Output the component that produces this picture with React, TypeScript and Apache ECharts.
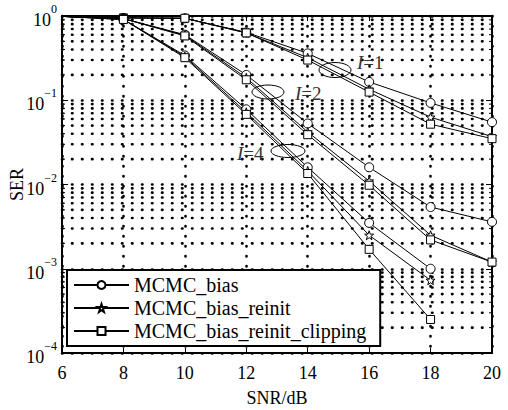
import React, { useEffect, useRef } from "react";
import * as echarts from "echarts";

const snr = [6, 8, 10, 12, 14, 16, 18, 20];
const xTicks = [6, 8, 10, 12, 14, 16, 18, 20];

// I = 1
const bias1 = [0.99, 0.95, 0.94, 0.64, 0.36, 0.165, 0.093, 0.055];
const reinit1 = [0.99, 0.95, 0.94, 0.63, 0.32, 0.135, 0.063, 0.037];
const clip1 = [0.99, 0.95, 0.94, 0.63, 0.30, 0.125, 0.052, 0.035];
// I = 2
const bias2 = [0.99, 0.93, 0.6, 0.2, 0.053, 0.016, 0.0054, 0.0036];
const reinit2 = [0.99, 0.93, 0.59, 0.185, 0.042, 0.011, 0.0025, 0.0012];
const clip2 = [0.99, 0.93, 0.58, 0.175, 0.039, 0.0098, 0.0022, 0.0012];
// I = 4
const bias4 = [0.99, 0.91, 0.34, 0.078, 0.016, 0.0035, 0.001];
const reinit4 = [0.99, 0.91, 0.33, 0.072, 0.0145, 0.0025, 0.00073];
const clip4 = [0.99, 0.91, 0.32, 0.068, 0.0135, 0.0017, 0.00025];

const legendNames = ["MCMC_bias", "MCMC_bias_reinit", "MCMC_bias_reinit_clipping"];
const groupLabels = ["1", "2", "4"];

const minorVals: number[] = [];
for (let e = -4; e < 0; e++) {
  for (let m = 2; m <= 9; m++) minorVals.push(m * Math.pow(10, e));
}

const FONT = "'Liberation Serif', 'Times New Roman', serif";
const STAR =
  "path://M0,-10L2.35,-3.24L9.51,-3.09L3.8,1.24L5.88,8.09L0,4L-5.88,8.09L-3.8,1.24L-9.51,-3.09L-2.35,-3.24Z";
const symbols = ["circle", STAR, "rect"];
const symbolSizes = [9, 9, 8];

const dotted = { color: "#000", width: 2.6, type: [0.5, 9.5], cap: "round" };

export default function App() {
  const ref = useRef<HTMLDivElement>(null);
  useEffect(() => {
    if (!ref.current) return;
    const chart = echarts.init(ref.current, undefined, { renderer: "svg" });

    const groups = [
      [bias1, reinit1, clip1],
      [bias2, reinit2, clip2],
      [bias4, reinit4, clip4],
    ];
    const lineSeries: any[] = [];
    groups.forEach((g) => {
      g.forEach((vals, k) => {
        lineSeries.push({
          type: "line",
          name: legendNames[k],
          symbol: symbols[k],
          symbolSize: symbolSizes[k],
          data: vals.map((v, i) =>
            i === 0 ? { value: [snr[i], v], symbol: "none" } : [snr[i], v]
          ),
          lineStyle: { color: "#000", width: 1 },
          itemStyle: { color: "#fff", borderColor: "#000", borderWidth: 1 },
          z: 5,
        });
      });
    });

    const option: any = {
      animation: false,
      grid: {
        left: 62,
        right: 16,
        top: 16,
        bottom: 57,
        show: false,
        containLabel: false,
        outerBoundsMode: "none",
      },
      xAxis: [
        {
          type: "value",
          min: 6,
          max: 20,
          interval: 2,
          axisLine: { lineStyle: { color: "#000", width: 2 } },
          axisTick: { inside: true, length: 5, lineStyle: { color: "#000" } },
          axisLabel: {
            color: "#000",
            fontSize: 18,
            fontFamily: FONT,
            margin: 11,
            formatter: (v: number) => (xTicks.includes(v) ? String(v) : ""),
          },
          splitLine: { show: true, lineStyle: dotted },
          name: "SNR/dB",
          nameLocation: "middle",
          nameGap: 36,
          nameMoveOverlap: false,
          nameTextStyle: { color: "#000", fontSize: 18, fontFamily: FONT },
        },
        {
          type: "value",
          position: "top",
          min: 6,
          max: 20,
          interval: 2,
          axisLine: { show: true, lineStyle: { color: "#000", width: 2 } },
          axisTick: { show: true, inside: true, length: 5, lineStyle: { color: "#000" } },
          axisLabel: { show: false },
          splitLine: { show: false },
        },
      ],
      yAxis: [
        {
          type: "log",
          logBase: 10,
          min: 1e-4,
          max: 1,
          interval: 1,
          axisLine: { show: true, lineStyle: { color: "#000", width: 2 } },
          axisTick: { show: true, inside: true, length: 6, lineStyle: { color: "#000" } },
          axisLabel: {
            margin: 5,
            formatter: (v: number) => {
              const e = Math.round(Math.log10(v));
              return `{b|10}{s|${e < 0 ? "\u2212" + -e : e}}`;
            },
            rich: {
              b: { fontSize: 18, fontFamily: FONT, color: "#000", lineHeight: 26, verticalAlign: "bottom" },
              s: { fontSize: 12, fontFamily: FONT, color: "#000", lineHeight: 26, verticalAlign: "top" },
            },
          },
          splitLine: { show: true, lineStyle: dotted },
          name: "SER",
          nameLocation: "middle",
          nameGap: 36,
          nameMoveOverlap: false,
          nameTextStyle: { color: "#000", fontSize: 18, fontFamily: FONT },
        },
        {
          type: "log",
          logBase: 10,
          min: 1e-4,
          max: 1,
          interval: 1,
          position: "right",
          axisLine: { show: true, lineStyle: { color: "#000", width: 2 } },
          axisTick: { show: true, inside: true, length: 6, lineStyle: { color: "#000" } },
          axisLabel: { show: false },
          splitLine: { show: false },
        },
      ],
      legend: {
        data: legendNames,
        orient: "vertical",
        left: 67,
        top: 270,
        padding: [5, 14, 5, 6],
        itemGap: 3,
        itemWidth: 55,
        itemHeight: 10,
        backgroundColor: "#fff",
        borderColor: "#000",
        borderWidth: 2,
        borderRadius: 0,
        textStyle: { color: "#000", fontSize: 20, fontFamily: FONT },
        z: 20,
      },
      series: [
        {
          type: "custom",
          silent: true,
          z: 1,
          data: minorVals.map((v) => [6, v]),
          renderItem: (params: any, api: any) => {
            const cs = params.coordSys;
            const y = api.coord([6, api.value(1)])[1];
            return {
              type: "group",
              children: [
                {
                  type: "line",
                  shape: { x1: cs.x, y1: y, x2: cs.x + cs.width, y2: y },
                  style: { stroke: "#000", lineWidth: 2.6, lineDash: [0.5, 9.5], lineCap: "round" },
                },
                {
                  type: "line",
                  shape: { x1: cs.x, y1: y, x2: cs.x + 3, y2: y },
                  style: { stroke: "#000", lineWidth: 1 },
                },
                {
                  type: "line",
                  shape: { x1: cs.x + cs.width - 3, y1: y, x2: cs.x + cs.width, y2: y },
                  style: { stroke: "#000", lineWidth: 1 },
                },
              ],
            };
          },
        },
        ...lineSeries,
      ],
      graphic: [
        { type: "ellipse", shape: { cx: 335, cy: 70, rx: 16, ry: 7.5 }, style: { fill: "none", stroke: "#000", lineWidth: 1 }, z: 10 },
        { type: "ellipse", shape: { cx: 268, cy: 92, rx: 16, ry: 7 }, style: { fill: "none", stroke: "#000", lineWidth: 1 }, z: 10 },
        { type: "ellipse", shape: { cx: 288, cy: 151, rx: 17, ry: 6.5 }, style: { fill: "none", stroke: "#000", lineWidth: 1 }, z: 10 },
        ...[
          [357, 62],
          [295, 93],
          [237, 153],
        ].map((p, i) => ({
          type: "text",
          x: p[0],
          y: p[1],
          z: 10,
          style: {
            text: `{i|I}{n|=${groupLabels[i]}}`,
            verticalAlign: "middle",
            rich: {
              i: { fontSize: 19, fontFamily: FONT, fontStyle: "italic", fill: "#333" },
              n: { fontSize: 19, fontFamily: FONT, fill: "#333" },
            },
          },
        })),
      ],
    };
    chart.setOption(option);
    return () => chart.dispose();
  }, []);
  return (
    <div
      ref={ref}
      style={{ position: "absolute", left: 0, top: 0, width: 508, height: 410 }}
    />
  );
}
